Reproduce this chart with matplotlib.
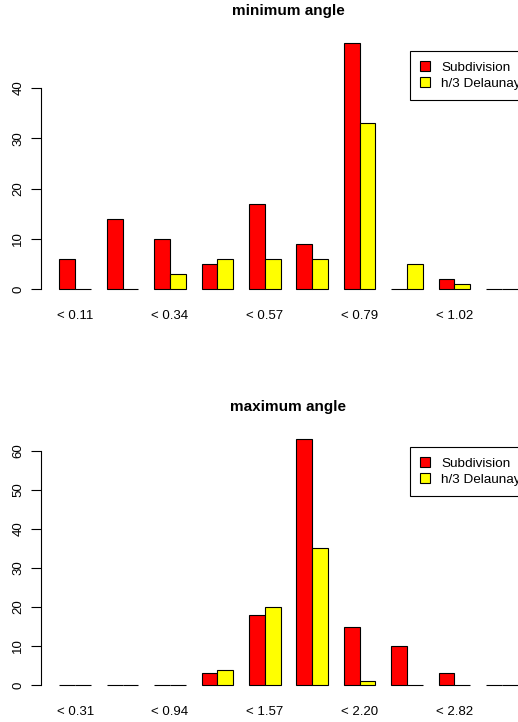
import matplotlib
matplotlib.use("Agg")
import matplotlib.pyplot as plt
from matplotlib.patches import Patch
import numpy as np

plt.rcParams['font.family'] = ['Liberation Sans', 'DejaVu Sans']

series_names = ["Subdivision", "h/3 Delaunay"]
colors = ["#FF0000", "#FFFF00"]

min_labels = ["< 0.11", "< 0.23", "< 0.34", "< 0.45", "< 0.57",
              "< 0.68", "< 0.79", "< 0.91", "< 1.02", "< 1.13"]
min_subdiv = [6, 14, 10, 5, 17, 9, 49, 0, 2, 0]
min_delaunay = [0, 0, 3, 6, 6, 6, 33, 5, 1, 0]

max_labels = ["< 0.31", "< 0.63", "< 0.94", "< 1.26", "< 1.57",
              "< 1.88", "< 2.20", "< 2.51", "< 2.82", "< 3.14"]
max_subdiv = [0, 0, 0, 3, 18, 63, 15, 10, 3, 0]
max_delaunay = [0, 0, 0, 4, 20, 35, 1, 0, 0, 0]

W, H = 518, 722
fig = plt.figure(figsize=(W / 100, H / 100), dpi=100)


def px_axes(left, right, top, bottom):
    return fig.add_axes([left / W, 1 - bottom / H, (right - left) / W, (bottom - top) / H])


def panel(ax, title, labels, a, b, yticks, title_y, leg_top):
    n = len(a)
    idx = np.arange(n)
    ax.bar(1 + 3 * idx, a, width=1, align='edge', color=colors[0],
           edgecolor='black', linewidth=0.8)
    ax.bar(2 + 3 * idx, b, width=1, align='edge', color=colors[1],
           edgecolor='black', linewidth=0.8)
    ymax = max(max(a), max(b))
    ax.set_xlim(-0.16, 3 * n + 1.16)
    ax.set_ylim(-0.04 * ymax, 1.04 * ymax)
    for s in ['top', 'right', 'bottom']:
        ax.spines[s].set_visible(False)
    ax.spines['left'].set_bounds(yticks[0], yticks[-1])
    ax.spines['left'].set_linewidth(0.8)
    ax.set_yticks(yticks)
    ax.tick_params(axis='y', length=7, width=0.8, pad=5, labelsize=9.5,
                   labelrotation=90)
    for t in ax.get_yticklabels():
        t.set_verticalalignment('center')
    ax.set_xticks(2 + 3 * idx[::2])
    ax.set_xticklabels(labels[::2])
    ax.tick_params(axis='x', length=0, pad=8, labelsize=9.5)
    fig.text(ax.get_position().x0 + ax.get_position().width / 2, 1 - title_y / H,
             title, ha='center', va='center', fontsize=11, fontweight='bold')
    handles = [Patch(facecolor=c, edgecolor='black', linewidth=0.8) for c in colors]
    leg = fig.legend(handles, series_names, loc='upper right',
                     bbox_to_anchor=(531 / W, 1 - leg_top / H),
                     bbox_transform=fig.transFigure, fontsize=9.7,
                     fancybox=False, edgecolor='black', framealpha=1,
                     handlelength=0.75, handleheight=0.75, handletextpad=0.85,
                     labelspacing=0.25, borderpad=0.75, borderaxespad=0)
    leg.get_frame().set_linewidth(0.8)


ax1 = px_axes(41, 536, 33, 299)
panel(ax1, "minimum angle", min_labels, min_subdiv, min_delaunay,
      [0, 10, 20, 30, 40], 11, 51)

ax2 = px_axes(41, 536, 429, 695)
panel(ax2, "maximum angle", max_labels, max_subdiv, max_delaunay,
      [0, 10, 20, 30, 40, 50, 60], 407, 447)

fig.savefig("out.png", dpi=100)
